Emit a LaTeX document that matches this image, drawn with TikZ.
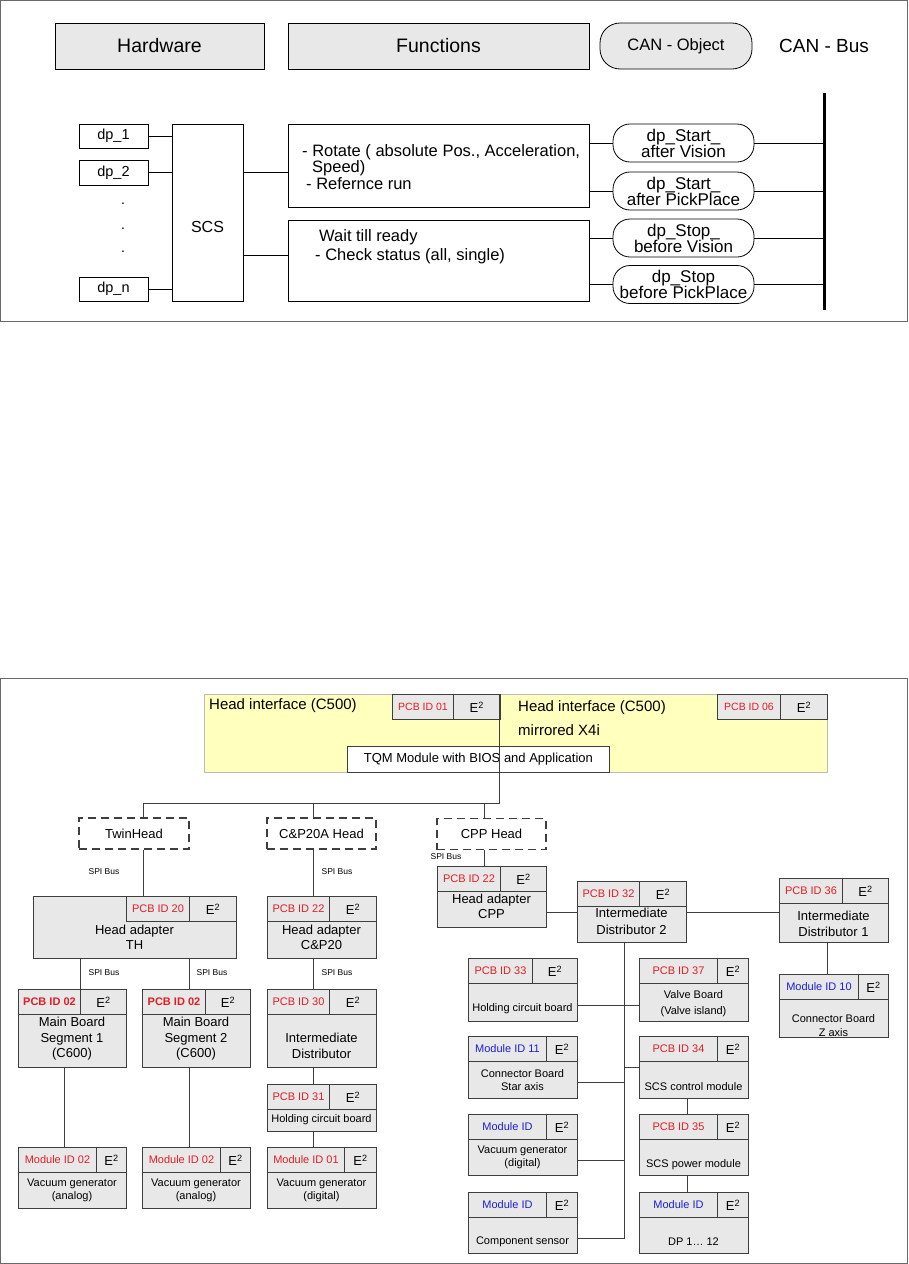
\documentclass[tikz,border=0pt]{standalone}
\usepackage{fontspec}
\setmainfont{Liberation Sans}
\usetikzlibrary{positioning}
\definecolor{boxgray}{RGB}{232,232,232}
\definecolor{linegray}{RGB}{62,62,62}
\definecolor{framegray}{RGB}{105,105,105}
\definecolor{idred}{RGB}{226,30,36}
\definecolor{idblue}{RGB}{30,30,215}
\definecolor{hifyellow}{RGB}{255,255,190}
\colorlet{hifdraw}{framegray!45}

\newcommand{\eetwo}{{\fontsize{13}{15}\selectfont E\textsuperscript{2}}}
\newcommand{\bigtxt}{\fontsize{13}{15.5}\selectfont}
% board: name, x1, y1, x2, y2, split, id
\newcommand{\board}[7]{%
  \node[cell,anchor=north west,minimum width={(#6-#2)*1pt},minimum height=25pt] (#1-id) at (#2,#3) {#7};
  \node[cell,anchor=north west,minimum width={(#4-#6)*1pt},minimum height=25pt] (#1-e) at (#6,#3) {\eetwo};
  \node[cell,anchor=north west,minimum width={(#4-#2)*1pt},minimum height={(#5-#3-25)*1pt}] (#1) at (#2,#3+25) {};
}

\begin{document}
\begin{tikzpicture}[x=1pt,y=-1pt,every node/.style={font=\fontsize{11}{13}\selectfont},
    frame/.style={draw=framegray,line width=1pt},
    hdr/.style={draw=black,fill=boxgray,line width=.9pt,inner sep=0pt,minimum height=46pt,font=\fontsize{19.5}{21}\selectfont},
    dpbox/.style={draw=black,line width=.8pt,inner sep=0pt,minimum width=69pt,minimum height=24pt,font=\fontsize{14.5}{16}\selectfont},
    fnbox/.style={draw=black,line width=.8pt,inner sep=0pt,minimum width=301pt},
    fntxt/.style={anchor=west,align=left,inner sep=0pt,font=\fontsize{16.5}{15}\selectfont},
    canobj/.style={draw=black,line width=.8pt,rounded corners=17pt,inner sep=0pt,minimum width=141pt,minimum height=38pt,align=center,font=\fontsize{17}{16}\selectfont},
    conn/.style={draw=black,line width=.8pt},
    cell/.style={draw=linegray,fill=boxgray,line width=1pt,inner sep=0pt},
    btxt/.style={align=center,inner sep=0pt},
    bigbtxt/.style={align=center,inner sep=0pt,font=\bigtxt},
    headbox/.style={draw=linegray,dash pattern=on 8pt off 5pt,line width=1.1pt,minimum width=110pt,minimum height=31pt,inner sep=0pt,font=\fontsize{13}{15}\selectfont},
    spi/.style={inner sep=0pt,font=\fontsize{8.5}{10}\selectfont},
    wire/.style={draw=linegray,line width=1pt}]
  \useasboundingbox (0,0) rectangle (908,1264);

  % ---------- upper panel: CAN objects ----------
  \draw[frame] (0.5,0.5) rectangle (907.5,321.5);
  \node[hdr,minimum width=209pt] (hw) at (159.5,46) {Hardware};
  \node[hdr,minimum width=301pt] (fct) at (438.5,46) {Functions};
  \node[canobj,fill=boxgray,minimum width=152pt,minimum height=46pt,rounded corners=20pt,font=\fontsize{16.5}{18}\selectfont] (canobj) at (676,46) {CAN - Object};
  \node[font=\fontsize{19}{21}\selectfont] (canbus) at (824,46) {CAN - Bus};

  \node[dpbox] (dp1) at (113.5,136) {dp\_1};
  \node[dpbox,minimum height=25pt] (dp2) at (113.5,172.5) {dp\_2};
  \node[dpbox] (dpn) at (113.5,289) {dp\_n};
  \foreach \y/\n in {204/a,229/b,252/c}
    \node[inner sep=0pt,font=\fontsize{14}{16}\selectfont] (dot\n) at (123,\y) {.};
  \node[draw=black,line width=.8pt,inner sep=0pt,minimum width=71pt,minimum height=177pt] (scs) at (207.5,212.5) {};
  \node[font=\fontsize{16}{18}\selectfont] (scs-txt) at (207.5,227) {SCS};

  \node[fnbox,minimum height=83pt] (fn1) at (438.5,165.5) {};
  \node[fntxt] (fn1-txt) at (302,167) {- Rotate ( absolute Pos., Acceleration,\\\hspace*{10pt}Speed)\\\hspace*{4pt}- Refernce run};
  \node[fnbox,minimum height=81pt] (fn2) at (438.5,260.5) {};
  \node[fntxt,font=\fontsize{16.5}{19}\selectfont] (fn2-txt) at (315,246.5) {\hspace*{4pt}Wait till ready\\- Check status (all, single)};

  \node[canobj] (ov1) at (683.5,143) {dp\_Start\_\\after Vision};
  \node[canobj] (ov2) at (683.5,191) {dp\_Start\_\\after PickPlace};
  \node[canobj] (ov3) at (683.5,238) {dp\_Stop\_\\before Vision};
  \node[canobj] (ov4) at (683.5,284.5) {dp\_Stop\\before PickPlace};

  \coordinate (bustop) at (824,93);
  \coordinate (busbot) at (824,310);
  \draw[line width=3pt] (bustop) -- (busbot);

  \draw[conn] (dp1.east) -- (dp1.east -| scs.west);
  \draw[conn] (dp2.east) -- (dp2.east -| scs.west);
  \draw[conn] (dpn.east) -- (dpn.east -| scs.west);
  \draw[conn] (scs.east |- dp2) -- (fn1.west |- dp2);
  \draw[conn] ([yshift=5pt]fn2.west -| scs.east) -- ([yshift=5pt]fn2.west);
  \foreach \o/\f in {ov1/fn1,ov2/fn1,ov3/fn2,ov4/fn2} {
    \draw[conn] (\f.east |- \o.west) -- (\o.west);
    \draw[conn] (\o.east) -- (\o.east -| bustop);
  }

  % ---------- lower panel: head hardware ----------
  \draw[frame] (0.5,678.5) rectangle (907.5,1263);
  \node[draw=hifdraw,fill=hifyellow,line width=.6pt,anchor=north west,inner sep=0pt,minimum width=623pt,minimum height=78pt] (hif) at (204,694) {};
  \node[anchor=west,inner sep=0pt,font=\fontsize{15}{24}\selectfont] (hifl) at (209,706) {Head interface (C500)};
  \node[anchor=west,align=left,inner sep=0pt,font=\fontsize{15}{24}\selectfont] (hifr) at (518,718) {Head interface (C500)\\mirrored X4i};
  \node[cell,anchor=north west,minimum width=61pt,minimum height=25pt,font=\fontsize{10.5}{12}\selectfont] (hif1-id) at (392,694) {\color{idred}PCB ID 01};
  \node[cell,anchor=north west,minimum width=46.5pt,minimum height=25pt] (hif1-e) at (453,694) {\eetwo};
  \node[cell,anchor=north west,minimum width=63pt,minimum height=25pt,font=\fontsize{10.5}{12}\selectfont] (hif2-id) at (717,694) {\color{idred}PCB ID 06};
  \node[cell,anchor=north west,minimum width=47pt,minimum height=25pt] (hif2-e) at (780,694) {\eetwo};
  \node[draw=linegray,fill=white,line width=.8pt,anchor=north west,inner sep=0pt,minimum width=262pt,minimum height=26pt,font=\fontsize{13}{15}\selectfont] (tqm) at (347,746) {TQM Module with BIOS and Application};

  \node[headbox] (twin) at (134,833.5) {TwinHead};
  \node[headbox,minimum width=109pt] (cpa) at (321.5,833.5) {C\&P20A Head};
  \node[headbox,minimum width=109pt] (cpph) at (491.5,834) {CPP Head};

  % twin head adapter, cells sit at the right
  \node[cell,anchor=north west,minimum width=203pt,minimum height=62pt] (th) at (33,896) {};
  \node[cell,anchor=north west,minimum width=63pt,minimum height=25pt] (th-id) at (126,896) {\color{idred}PCB ID 20};
  \node[cell,anchor=north west,minimum width=47pt,minimum height=25pt] (th-e) at (189,896) {\eetwo};
  \node[bigbtxt] (th-txt) at (134.5,937.5) {Head adapter\\TH};

  \board{mb1}{18}{989}{126}{1067}{80}{\bfseries\color{idred}PCB ID 02}
  \node[bigbtxt] (mb1-txt) at (72,1039) {Main Board\\Segment 1\\(C600)};
  \board{mb2}{142}{989}{250}{1067}{205}{\bfseries\color{idred}PCB ID 02}
  \node[bigbtxt] (mb2-txt) at (196,1039) {Main Board\\Segment 2\\(C600)};
  \board{vg1}{18}{1147}{126}{1208}{96}{\color{idred}Module ID 02}
  \node[btxt] (vg1-txt) at (72,1190.5) {Vacuum generator\\(analog)};
  \board{vg2}{142}{1147}{250}{1208}{220}{\color{idred}Module ID 02}
  \node[btxt] (vg2-txt) at (196,1190.5) {Vacuum generator\\(analog)};
  \board{hcp}{267}{896}{376}{958}{329}{\color{idred}PCB ID 22}
  \node[bigbtxt] (hcp-txt) at (321.5,937.5) {Head adapter\\C\&P20};
  \board{idist}{267}{989}{376}{1067}{329}{\color{idred}PCB ID 30}
  \node[bigbtxt] (idist-txt) at (321.5,1046) {Intermediate\\Distributor};
  \board{hold}{267}{1084}{376}{1131}{329}{\color{idred}PCB ID 31}
  \node[btxt] (hold-txt) at (321.5,1120) {Holding circuit board};
  \board{vg3}{267}{1147}{376}{1208}{344}{\color{idred}Module ID 01}
  \node[btxt] (vg3-txt) at (321.5,1190.5) {Vacuum generator\\(digital)};

  \board{hcpp}{437}{866}{546}{927}{500}{\color{idred}PCB ID 22}
  \node[bigbtxt] (hcpp-txt) at (491.5,906.5) {Head adapter\\CPP};
  \board{id2}{577}{881}{686}{942}{639}{\color{idred}PCB ID 32}
  \node[bigbtxt,font=\fontsize{13}{17}\selectfont] (id2-txt) at (631.5,921.5) {Intermediate\\Distributor 2};
  \board{id1}{779}{878}{888}{942}{842}{\color{idred}PCB ID 36}
  \node[bigbtxt] (id1-txt) at (833.5,924) {Intermediate\\Distributor 1};
  \board{zax}{779}{974}{888}{1037}{858}{\color{idblue}Module ID 10}
  \node[btxt,font=\fontsize{11}{14}\selectfont] (zax-txt) at (833.5,1026) {Connector Board\\Z axis};
  \board{hold33}{468}{958}{577}{1021}{532}{\color{idred}PCB ID 33}
  \node[btxt] (hold33-txt) at (522.5,1009) {Holding circuit board};
  \board{valve}{639}{958}{748}{1021}{717}{\color{idred}PCB ID 37}
  \node[btxt,font=\fontsize{11}{16}\selectfont] (valve-txt) at (693.5,1004) {Valve Board\\(Valve island)};
  \board{star}{468}{1036}{577}{1098}{546}{\color{idblue}Module ID 11}
  \node[btxt] (star-txt) at (522.5,1080.5) {Connector Board\\Star axis};
  \board{scsc}{639}{1036}{748}{1098}{717}{\color{idred}PCB ID 34}
  \node[btxt] (scsc-txt) at (693.5,1087) {SCS control module};
  \board{vgd}{468}{1114}{577}{1175}{546}{\color{idblue}Module ID}
  \node[btxt] (vgd-txt) at (522.5,1157.5) {Vacuum generator\\(digital)};
  \board{scsp}{639}{1114}{748}{1175}{717}{\color{idred}PCB ID 35}
  \node[btxt] (scsp-txt) at (693.5,1165) {SCS power module};
  \board{comp}{468}{1192}{577}{1253}{546}{\color{idblue}Module ID}
  \node[btxt] (comp-txt) at (522.5,1242) {Component sensor};
  \board{dpm}{639}{1192}{748}{1253}{717}{\color{idblue}Module ID}
  \node[btxt] (dpm-txt) at (693.5,1242) {DP 1\dots{} 12};

  \node[spi] (spi1) at (104,872) {SPI Bus};
  \node[spi] (spi2) at (104,973) {SPI Bus};
  \node[spi] (spi3) at (212,973) {SPI Bus};
  \node[spi] (spi4) at (337,872) {SPI Bus};
  \node[spi] (spi5) at (337,973) {SPI Bus};
  \node[spi] (spi6) at (446,857) {SPI Bus};

  % columns and rows of the wiring
  \coordinate (busjoin) at (499.5,803);
  \coordinate (colA) at (143,0);
  \coordinate (colB) at (313,0);
  \coordinate (colC) at (484,0);
  \coordinate (colT1) at (80,0);
  \coordinate (colT2) at (189,0);
  \coordinate (colM1) at (64,0);
  \coordinate (colD) at (624,0);
  \coordinate (colS) at (687,0);
  \coordinate (colE) at (827,0);
  \coordinate (rowcpp) at (0,912);
  \coordinate (rowhold) at (0,1005);
  \coordinate (rowscsc) at (0,1067);
  \coordinate (rowstar) at (0,1082);
  \coordinate (rowvgd) at (0,1160);
  \coordinate (rowcomp) at (0,1238);

  \draw[wire] (busjoin |- hif.north) -- (busjoin);
  \draw[wire] (busjoin) -- (busjoin -| colA) -- (twin.north -| colA);
  \draw[wire] (busjoin -| colB) -- (cpa.north -| colB);
  \draw[wire] (busjoin -| colC) -- (cpph.north -| colC);
  \draw[wire] (twin.south -| colA) -- (th.north -| colA);
  \draw[wire] (th.south -| colT1) -- (mb1-id.north -| colT1);
  \draw[wire] (th.south -| colT2) -- (mb2-id.north -| colT2);
  \draw[wire] (mb1.south -| colM1) -- (vg1-id.north -| colM1);
  \draw[wire] (mb2.south -| colT2) -- (vg2-id.north -| colT2);
  \draw[wire] (cpa.south -| colB) -- (hcp-id.north -| colB);
  \draw[wire] (hcp.south -| colB) -- (idist-id.north -| colB);
  \draw[wire] (idist.south -| colB) -- (hold-id.north -| colB);
  \draw[wire] (hold.south -| colB) -- (vg3-id.north -| colB);
  \draw[wire] (cpph.south -| colC) -- (hcpp-id.north -| colC);
  \draw[wire] (hcpp.east |- rowcpp) -- (id2.west |- rowcpp);
  \draw[wire] (id2.east |- rowcpp) -- (id1.west |- rowcpp);
  \draw[wire] (id1.south -| colE) -- (zax-id.north -| colE);
  \draw[wire] (id2.south -| colD) |- (comp.east |- rowcomp);
  \draw[wire] (hold33.east |- rowhold) -- (valve.west |- rowhold);
  \draw[wire] (colD |- rowscsc) -- (scsc.west |- rowscsc);
  \draw[wire] (star.east |- rowstar) -- (colD |- rowstar);
  \draw[wire] (vgd.east |- rowvgd) -- (colD |- rowvgd);
  \draw[wire] (scsc.south -| colS) -- (scsp-id.north -| colS);
  \draw[wire] (scsp.south -| colS) -- (dpm-id.north -| colS);
\end{tikzpicture}
\end{document}
